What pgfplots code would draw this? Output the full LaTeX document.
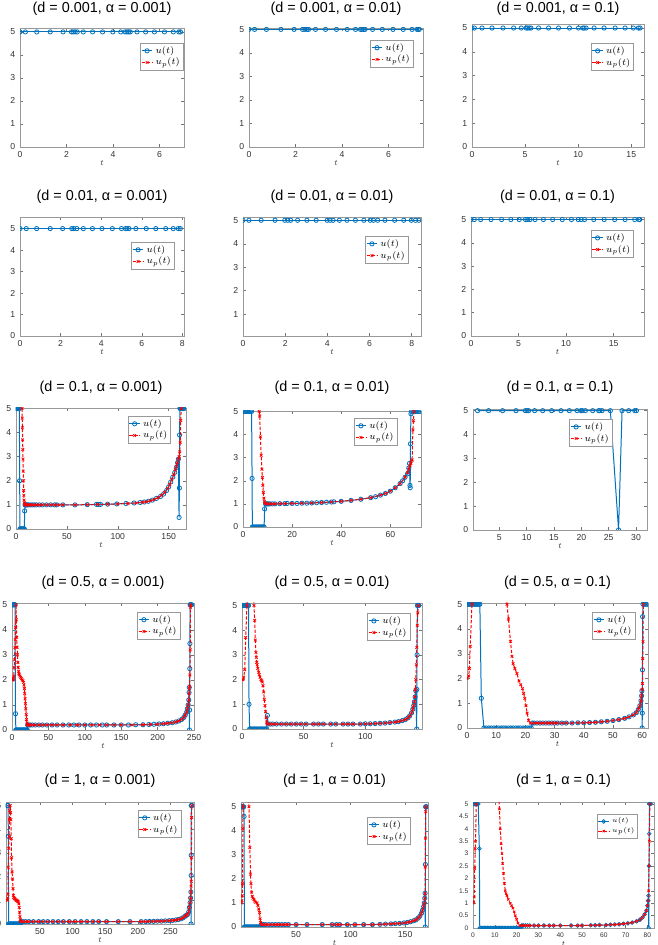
\documentclass[border=0pt]{standalone}
\usepackage{fontspec}
\setmainfont{Liberation Sans}
\usepackage{pgfplots}
\pgfplotsset{compat=1.18}
\definecolor{mblue}{rgb}{0,0.447,0.741}
\pgfplotsset{
  mat/.style={
    scale only axis, anchor=south west,
    axis line style={draw=black!40, line width=0.5pt},
    tick style={draw=black!55, line width=0.35pt},
    tick align=inside, major tick length=2pt,
    tick label style={font=\fontsize{6.5}{7}\selectfont, text=black!80},
    /pgf/number format/assume math mode=true,
    xlabel={$t$},
    xlabel style={font=\fontsize{6}{6}\selectfont, at={(axis description cs:0.5,0)}, anchor=center, yshift=-12pt, text=black!80},
    every axis title/.style={font=\fontsize{10.8}{12}\selectfont, at={(axis description cs:0.5,1)}, anchor=center},
    legend style={font=\fontsize{6.8}{7}\selectfont, draw=black!40, inner sep=0.5pt, outer sep=0pt, row sep=-2pt, anchor=north east},
    legend cell align=left,
    legend image code/.code={\draw[mark repeat=2,mark phase=2] plot coordinates {(0cm,0cm) (0.14cm,0cm) (0.28cm,0cm)};},
    clip marker paths=true,
    ymin=0, ytick={0,1,2,3,4,5},
    legend entries={$u(t)$,$u_p(t)$},
  },
  tsh/.style={title style={yshift=#1}},
  lp/.style 2 args={legend style={at={(#1,#2)}}},
  ublue/.style={color=mblue, line width=0.75pt, mark=o, mark size=1.6pt, mark options={solid, line width=0.6pt}},
  ured/.style={color=red, line width=0.75pt, dash pattern=on 2.5pt off 1.3pt, mark=x, mark size=1.4pt, mark options={solid, line width=0.6pt}},
}
\begin{document}
\begin{tikzpicture}
\useasboundingbox (0,0) rectangle (492.75pt,708.75pt);
% ---------------- Row 1 ----------------
\begin{axis}[mat, at={(15pt,598.5pt)}, width=123pt, height=89.25pt, xmin=0, xmax=7.05, ymax=5.17, xtick={0,2,4,6},
  title={(d = 0.001, α = 0.001)}, tsh=14.25pt, lp={0.995}{0.874}]
\addplot[ublue] coordinates {(0,5)(0.23,5)(0.72,5)(1.3,5)(1.85,5)(2.21,5)(2.28,5)(2.37,5)(2.46,5)(2.72,5)(3.12,5)(3.55,5)(3.99,5)(4.33,5)(4.52,5)(4.6,5)(4.67,5)(4.74,5)(5.03,5)(5.4,5)(5.78,5)(6.21,5)(6.59,5)(6.83,5)(6.9,5)};
\addlegendimage{ured}
\end{axis}
\begin{axis}[mat, at={(186.75pt,598.5pt)}, width=130.5pt, height=89.25pt, xmin=0, xmax=7.48, ymax=5.06, xtick={0,2,4,6},
  title={(d = 0.001, α = 0.01)}, tsh=14.25pt, lp={0.943}{0.9}]
\addplot[ublue] coordinates {(0,5)(0.24,5)(0.75,5)(1.37,5)(1.94,5)(2.3,5)(2.4,5)(2.5,5)(2.56,5)(2.86,5)(3.29,5)(3.76,5)(4.22,5)(4.58,5)(4.79,5)(4.85,5)(4.92,5)(4.99,5)(5.31,5)(5.73,5)(6.19,5)(6.63,5)(7.01,5)(7.22,5)(7.28,5)(7.32,5)};
\addlegendimage{ured}
\end{axis}
\begin{axis}[mat, at={(354pt,598.5pt)}, width=129pt, height=92.25pt, xmin=0, xmax=16.2, ymax=5.17, xtick={0,5,10,15},
  title={(d = 0.001, α = 0.1)}, tsh=11.25pt, lp={0.94}{0.845}]
\addplot[ublue] coordinates {(0,5)(0.22,5)(0.94,5)(1.88,5)(2.92,5)(3.92,5)(4.64,5)(5.11,5)(5.24,5)(5.39,5)(5.55,5)(6.27,5)(7.21,5)(8.15,5)(9.18,5)(10.03,5)(10.44,5)(10.56,5)(10.75,5)(11.5,5)(12.44,5)(13.48,5)(14.42,5)(15.2,5)(15.67,5)(15.83,5)};
\addlegendimage{ured}
\end{axis}
% ---------------- Row 2 ----------------
\begin{axis}[mat, at={(15pt,456.75pt)}, width=123pt, height=89.25pt, xmin=0, xmax=8.08, ymax=5.54, xtick={0,2,4,6,8},
  title={(d = 0.01, α = 0.001)}, tsh=15pt, lp={0.94}{0.79}]
\addplot[ublue] coordinates {(0,5)(0.31,5)(0.82,5)(1.49,5)(2.1,5)(2.55,5)(2.65,5)(2.8,5)(3.12,5)(3.57,5)(4.04,5)(4.55,5)(5.0,5)(5.2,5)(5.27,5)(5.37,5)(5.71,5)(6.22,5)(6.69,5)(7.18,5)(7.55,5)(7.8,5)(7.9,5)};
\addlegendimage{ured}
\end{axis}
\begin{axis}[mat, at={(182.25pt,456.75pt)}, width=133.5pt, height=89.25pt, xmin=0, xmax=8.44, ymin=0.07, ymax=5.14, xtick={0,2,4,6,8},
  title={(d = 0.01, α = 0.01)}, tsh=15pt, lp={0.927}{0.84}]
\addplot[ublue] coordinates {(0,5)(0.28,5)(0.86,5)(1.52,5)(1.98,5)(2.12,5)(2.26,5)(2.59,5)(3.03,5)(3.47,5)(3.99,5)(4.13,5)(4.27,5)(4.57,5)(4.93,5)(5.33,5)(5.73,5)(6.03,5)(6.19,5)(6.39,5)(6.73,5)(7.19,5)(7.62,5)(7.98,5)(8.18,5)(8.34,5)};
\addlegendimage{ured}
\end{axis}
\begin{axis}[mat, at={(353.25pt,456.75pt)}, width=129.75pt, height=89.25pt, xmin=0, xmax=18.2, ymax=5.11, xtick={0,5,10,15},
  title={(d = 0.01, α = 0.1)}, tsh=15pt, lp={0.94}{0.89}]
\addplot[ublue] coordinates {(0,5)(0.35,5)(1.01,5)(2.11,5)(3.22,5)(4.19,5)(5.07,5)(5.73,5)(5.95,5)(6.21,5)(6.74,5)(7.62,5)(8.59,5)(9.6,5)(10.57,5)(11.28,5)(11.59,5)(11.94,5)(12.91,5)(14.01,5)(15.11,5)(16.21,5)(17.22,5)(17.66,5)(17.75,5)};
\addlegendimage{ured}
\end{axis}
% ---------------- Row 3 ----------------
\begin{axis}[mat, at={(12pt,312pt)}, width=127.5pt, height=90.75pt, xmin=0, xmax=167, ymax=5.02, xtick={0,50,100,150},
  title={(d = 0.1, α = 0.001)}, tsh=15pt, lp={0.91}{0.934}]
\addplot[ublue] coordinates {(0,5)(0.4,5)(0.8,5)(1.2,5)(1.6,5)(2.0,5)(2.4,5)(2.8,5)(3.3,5)(3.6,2.0)(3.9,0)(4.3,0)(4.8,0)(5.3,0)(5.8,0)(6.3,0)(6.8,0)(7.3,0)(7.8,0)(8.2,0)(8.5,0.75)(8.9,1.0)(9.5,1.0)(10,1.0)(11,1.0)(12,1.0)(14,1.0)(16,1.0)(18,1.0)(20,1.0)(23,1.0)(26,1.0)(30,1.0)(34,1.0)(38,1.0)(40,1.0)(46,1.0)(58,1.0)(70,1.01)(79,1.02)(81,1.02)(83,1.02)(90,1.03)(99,1.04)(108,1.06)(116,1.08)(122,1.1)(126,1.12)(130,1.15)(134,1.2)(138,1.27)(142,1.35)(145,1.45)(148,1.6)(150,1.75)(152,1.95)(154,2.15)(156,2.35)(157.5,2.55)(158.7,2.75)(159.5,2.9)(160.2,0.48)(160.5,1.7)(160.7,3.9)(161,5)(161.6,5)(162.2,5)(162.8,5)(163.4,5)(164,5)(164.6,5)(165,5)};
\addplot[ured] coordinates {(5.9,5.0)(6.1,4.6)(6.3,4.2)(6.5,3.7)(6.7,3.3)(6.9,2.9)(7.1,2.4)(7.3,2.0)(7.5,1.6)(7.7,1.4)(7.9,1.2)(8.2,1.08)(8.6,1.03)(9,1.0)(9.5,1.0)(10,1.0)(11,1.0)(12,1.0)(13,1.0)(14,1.0)(16,1.0)(18,1.0)(20,1.0)(23,1.0)(26,1.0)(30,1.0)(34,1.0)(38,1.0)(42,1.0)(46,1.0)(58,1.0)(70,1.01)(80,1.02)(90,1.03)(100,1.04)(110,1.06)(118,1.08)(124,1.11)(128,1.13)(132,1.17)(136,1.23)(140,1.31)(143,1.4)(146,1.52)(149,1.68)(151,1.85)(153,2.05)(155,2.25)(156.5,2.45)(157.5,2.6)(158.5,2.75)(159.5,2.9)(160.3,3.0)(160.8,3.2)(161.3,3.6)(161.8,4.5)(162.3,5.0)};
\end{axis}
\begin{axis}[mat, at={(182.25pt,313.5pt)}, width=133.5pt, height=87pt, xmin=0, xmax=72.5, ymax=5.02, xtick={0,20,40,60},
  title={(d = 0.1, α = 0.01)}, tsh=17.25pt, lp={0.865}{0.94}]
\addplot[ublue] coordinates {(0,5)(0.5,5)(1,5)(1.5,5)(2,5)(2.5,5)(3,5)(3.5,5)(3.7,2.1)(3.8,0)(4.2,0)(4.6,0)(5.0,0)(5.4,0)(5.8,0)(6.2,0)(6.6,0)(7.0,0)(7.4,0)(7.8,0)(8.2,0)(8.6,0)(8.8,0.78)(9.2,1.0)(9.6,1.0)(10,1.0)(10.5,1.0)(11,1.0)(12,1.0)(13,1.0)(15,1.01)(17,1.01)(18,1.02)(20,1.02)(22,1.02)(24,1.03)(26,1.03)(28,1.04)(30,1.05)(32,1.06)(34,1.07)(36,1.08)(37,1.09)(40,1.11)(44,1.15)(48,1.2)(52,1.27)(54,1.31)(56,1.38)(58,1.45)(60,1.55)(62,1.7)(64,1.88)(65,2.0)(66,2.15)(67,2.3)(67.5,2.55)(67.8,2.75)(68,1.8)(68.1,1.7)(68.2,3.6)(68.4,4.9)(68.6,5)(69.2,5)(69.8,5)(70.4,5)(71,5)(71.5,5)(72,5)};
\addplot[ured] coordinates {(6.6,5.0)(6.8,4.8)(7.1,3.9)(7.4,3.1)(7.7,2.5)(7.9,2.15)(8.1,1.8)(8.3,1.5)(8.5,1.25)(8.7,1.1)(9.0,1.04)(9.4,1.0)(10,1.0)(11,1.0)(12,1.0)(13,1.0)(15,1.01)(17,1.01)(20,1.02)(24,1.03)(28,1.04)(32,1.06)(36,1.08)(40,1.11)(44,1.15)(48,1.2)(52,1.27)(56,1.38)(58,1.45)(60,1.55)(62,1.7)(64,1.88)(66,2.15)(67,2.35)(67.5,2.5)(68,2.65)(68.3,2.75)(68.6,2.85)(68.9,2.9)(69.2,4.2)(69.4,4.6)(69.7,5.0)};
\end{axis}
\begin{axis}[mat, at={(354.75pt,311.25pt)}, width=130.5pt, height=90.75pt, xmin=0.2, xmax=32, ymax=5.07, xtick={5,10,15,20,25,30},
  title={(d = 0.1, α = 0.1)}, tsh=15.75pt, lp={0.8}{0.917}]
\addplot[ublue] coordinates {(1.04,5)(3.05,5)(5.61,5)(8.05,5)(9.76,5)(10.06,5)(10.37,5)(11.46,5)(12.93,5)(14.57,5)(16.28,5)(17.8,5)(19.21,5)(19.94,5)(20.18,5)(20.73,5)(22.07,5)(23.17,5)(23.35,5)(23.78,5)(25.3,5)(26.8,0)(27.44,5)(28.66,5)(29.76,5)(30.06,5)};
\addlegendimage{ured}
\end{axis}
% ---------------- Row 4 ----------------
\begin{axis}[mat, at={(9pt,161.25pt)}, width=136.5pt, height=95.25pt, xmin=0, xmax=250, ymax=5.07, xtick={0,50,100,150,200,250},
  title={(d = 0.5, α = 0.001)}, tsh=15pt, lp={0.923}{0.93}]
\addplot[ublue] coordinates {(0,5)(0.7,5)(1.4,5)(2.1,5)(2.8,5)(3.5,5)(4.2,5)(4.8,0.65)(5.3,0)(6.3,0)(7.3,0)(8.3,0)(9.3,0)(10.3,0)(11.3,0)(12.3,0)(13.3,0)(14.3,0)(15.3,0)(16.3,0)(17.3,0)(18.3,0)(19.3,0)(20.3,0)(21,0)(21.5,0.2)(23,0.2)(25,0.2)(28,0.2)(32,0.2)(37,0.2)(42,0.2)(48,0.2)(55,0.2)(62,0.2)(70,0.2)(78,0.2)(85,0.2)(92,0.2)(100,0.2)(108,0.2)(116,0.2)(124,0.2)(130,0.2)(140,0.2)(150,0.2)(160,0.2)(170,0.21)(180,0.21)(188,0.22)(195,0.23)(202,0.24)(208,0.25)(214,0.27)(220,0.29)(225,0.32)(229,0.36)(233,0.42)(236,0.5)(238,0.6)(240,0.72)(241,0.85)(242,1.0)(242.8,1.2)(243.2,1.5)(243.5,1.7)(243.7,0)(244,0.8)(244.2,2.45)(244.4,3.45)(244.6,5)(245.3,5)(246,5)(246.8,5)};
\addplot[ured] coordinates {(0.5,2.0)(1,2.0)(1.5,2.02)(2,2.05)(2.5,2.15)(3,2.5)(3.5,2.8)(4,3.3)(4.5,3.6)(5,4.1)(5.6,5.0)(6,4.4)(6.5,3.7)(7,3.3)(7.5,3.0)(8,2.7)(8.5,2.5)(9,2.35)(9.5,2.25)(10,2.2)(11,2.15)(12,2.1)(13,2.05)(14,2.0)(15,1.97)(15.8,1.9)(16.5,1.8)(17,1.65)(17.5,1.45)(18,1.25)(18.5,1.05)(19,0.85)(19.5,0.62)(20,0.42)(20.5,0.28)(21,0.22)(21.5,0.2)(23,0.2)(25,0.2)(28,0.2)(32,0.2)(37,0.2)(42,0.2)(48,0.2)(55,0.2)(62,0.2)(70,0.2)(80,0.2)(90,0.2)(100,0.2)(110,0.2)(120,0.2)(130,0.2)(140,0.2)(150,0.2)(165,0.2)(180,0.21)(190,0.22)(200,0.23)(208,0.25)(214,0.27)(220,0.29)(225,0.32)(229,0.36)(233,0.42)(236,0.5)(238,0.6)(240,0.72)(241,0.85)(242,1.0)(242.8,1.2)(243.3,1.45)(243.7,1.65)(244,1.75)(244.4,2.2)(244.8,3.2)(245.2,4.9)(245.6,5.0)};
\end{axis}
\begin{axis}[mat, at={(181.5pt,162pt)}, width=135pt, height=94.5pt, xmin=0, xmax=146, ymax=5.1, xtick={0,50,100},
  title={(d = 0.5, α = 0.01)}, tsh=15pt, lp={0.933}{0.92}]
\addplot[ublue] coordinates {(0,5)(0.6,5)(1.2,5)(1.8,5)(2.4,5)(3,5)(3.6,5)(4.2,5)(4.8,5)(5.3,5)(5.7,1.0)(6.2,0)(7,0)(8,0)(9,0)(10,0)(11,0)(12,0)(13,0)(14,0)(15,0)(16,0)(17,0)(18,0)(19,0)(20,0)(20.6,0.55)(21.2,0.2)(23,0.2)(25,0.2)(28,0.2)(32,0.2)(36,0.2)(40,0.2)(44,0.2)(48,0.2)(52,0.2)(58,0.2)(62,0.2)(66,0.2)(72,0.2)(76,0.2)(82,0.2)(86,0.2)(90,0.2)(96,0.2)(100,0.21)(104,0.21)(108,0.22)(112,0.23)(116,0.24)(120,0.26)(124,0.28)(127,0.3)(130,0.34)(132.5,0.38)(134.5,0.45)(136,0.53)(137.5,0.65)(138.5,0.8)(139.3,0.95)(139.8,1.1)(140.4,1.3)(140.9,1.55)(141.7,0)(141.8,1.6)(142,3.0)(142.2,5)(142.8,5)(143.4,5)};
\addplot[ured] coordinates {(0.3,2.0)(0.8,2.0)(1.4,2.1)(2.2,2.4)(3.0,3.7)(4.0,5.0)(5,6.5)(7,7.5)(9,6.3)(9.7,5.0)(10.3,4.4)(10.8,3.6)(11.3,3.1)(11.6,2.9)(11.9,2.7)(12.3,2.6)(12.8,2.45)(13.5,2.3)(14,2.2)(14.6,2.1)(15.3,2.0)(16,1.95)(16.5,1.9)(17,1.75)(17.6,1.5)(18.1,1.2)(18.6,0.95)(19.1,0.7)(19.6,0.45)(20,0.28)(20.4,0.2)(23,0.2)(25,0.2)(28,0.2)(32,0.2)(36,0.2)(40,0.2)(44,0.2)(48,0.2)(52,0.2)(58,0.2)(62,0.2)(66,0.2)(72,0.2)(76,0.2)(82,0.2)(86,0.2)(90,0.2)(96,0.2)(100,0.21)(104,0.21)(108,0.22)(112,0.23)(116,0.24)(120,0.26)(124,0.28)(127,0.3)(130,0.34)(132.5,0.38)(134.5,0.45)(136,0.53)(137.5,0.65)(138.5,0.8)(139.3,0.95)(139.8,1.1)(140.2,1.3)(140.6,1.6)(141,2.0)(141.4,2.6)(141.8,3.3)(142.2,4.2)(142.6,4.7)(143,5.0)};
\end{axis}
\begin{axis}[mat, at={(350.25pt,162.75pt)}, width=135.75pt, height=93.75pt, xmin=0, xmax=62, ymax=5.05, xtick={0,10,20,30,40,50,60},
  title={(d = 0.5, α = 0.1)}, tsh=15pt, lp={0.928}{0.928}]
\addplot[ublue] coordinates {(0,5)(0.4,5)(0.8,5)(1.2,5)(1.6,5)(2,5)(2.4,5)(2.8,5)(3.2,5)(3.6,5)(4,5)(4.4,5)(4.9,1.2)(5.8,0)(6.6,0)(7.5,0)(8.3,0)(9.2,0)(10,0)(10.8,0)(11.7,0)(12.5,0)(13.3,0)(14.2,0)(15,0)(15.8,0)(16.7,0)(17.5,0)(18.3,0)(19.2,0)(20,0)(20.8,0)(21.5,0)(22,0)(22.4,0.2)(23,0.2)(24,0.2)(25,0.2)(26,0.2)(27,0.2)(28,0.2)(29,0.2)(30,0.2)(31,0.2)(32.5,0.2)(34,0.2)(36,0.2)(38,0.21)(40,0.21)(42,0.22)(44,0.23)(46,0.25)(48,0.27)(50,0.3)(52,0.34)(54,0.39)(55.5,0.45)(57,0.53)(58,0.62)(58.7,0.75)(59.2,0.9)(59.6,1.1)(59.8,1.3)(59.9,1.5)(60,0)(60.05,0.6)(60.1,2.35)(60.15,4.5)(60.3,5)(60.8,5)(61.3,5)(61.7,5)};
\addplot[ured] coordinates {(0,2.0)(0.6,2.1)(0.8,2.4)(1.1,3.3)(1.7,5)(3,8)(8,9)(13,6)(13.7,5.0)(14.2,4.4)(14.9,3.5)(15.4,2.9)(15.8,2.6)(16.4,2.4)(17.1,2.2)(17.8,1.9)(18.4,1.75)(19,1.6)(19.4,1.4)(19.8,1.2)(20.2,0.9)(20.6,0.6)(21.1,0.3)(21.7,0.2)(23,0.2)(24,0.2)(25,0.2)(26,0.2)(27,0.2)(28,0.2)(29,0.2)(30,0.2)(31,0.2)(32.5,0.2)(34,0.2)(36,0.2)(38,0.21)(40,0.21)(42,0.22)(44,0.23)(46,0.25)(48,0.27)(50,0.3)(52,0.34)(54,0.39)(55.5,0.45)(57,0.53)(58,0.62)(58.7,0.75)(59.2,0.9)(59.6,1.1)(59.8,1.3)(60,1.55)(60.1,1.8)(60.2,2.8)(60.3,3.5)(60.4,5.0)};
\end{axis}
% ---------------- Row 5 ----------------
\begin{axis}[mat, at={(4.5pt,15.75pt)}, width=141pt, height=91.5pt, xmin=-2, xmax=286, ymax=5.15, xtick={50,100,150,200,250},
  title={(d = 1, α = 0.001)}, tsh=15.75pt, lp={0.93}{0.934}]
\addplot[ublue] coordinates {(0,5)(0.4,5)(0.8,5)(1.2,5)(1.6,3.7)(2,0)(3,0)(4,0)(5,0)(6,0)(7,0)(8,0)(9,0)(10,0)(11,0)(12,0)(13,0)(14,0)(15,0)(16,0)(17,0)(18,0)(19,0)(20,0)(21,0.1)(24,0.1)(28,0.1)(33,0.1)(40,0.1)(48,0.1)(55,0.1)(62,0.1)(70,0.1)(78,0.1)(86,0.1)(95,0.1)(104,0.1)(113,0.1)(122,0.1)(131,0.1)(140,0.1)(152,0.1)(170,0.1)(188,0.1)(205,0.1)(212,0.1)(218,0.11)(224,0.11)(230,0.12)(236,0.12)(242,0.13)(248,0.14)(253,0.15)(258,0.17)(262,0.19)(266,0.22)(269,0.26)(272,0.32)(274,0.36)(276,0.4)(278,0.52)(279,0.7)(280,0.9)(280.8,1.1)(281.2,1.35)(281.5,0)(281.6,2.05)(281.7,2.9)(281.8,5)(282.3,5)(282.8,5)};
\addplot[ured] coordinates {(0,1.0)(0.5,1.1)(1,1.25)(1.5,2.4)(2.2,3.2)(2.8,3.7)(3.3,4.4)(3.8,4.8)(4.4,5.0)(5,4.7)(5.5,4.4)(6,3.6)(6.5,2.8)(7.3,2.2)(8,1.9)(8.7,1.5)(9.3,1.2)(10,1.12)(11,1.08)(12,1.05)(13,1.02)(14,1.0)(15,0.98)(16,0.96)(17,0.93)(17.7,0.85)(18.3,0.7)(18.8,0.5)(19.3,0.32)(19.8,0.18)(20.3,0.12)(21,0.1)(24,0.1)(28,0.1)(33,0.1)(40,0.1)(48,0.1)(55,0.1)(62,0.1)(70,0.1)(78,0.1)(86,0.1)(95,0.1)(104,0.1)(113,0.1)(122,0.1)(131,0.1)(140,0.1)(152,0.1)(170,0.1)(188,0.1)(205,0.1)(212,0.1)(218,0.11)(224,0.11)(230,0.12)(236,0.12)(242,0.13)(248,0.14)(253,0.15)(258,0.17)(262,0.19)(266,0.22)(269,0.26)(272,0.32)(274,0.36)(276,0.4)(278,0.52)(279,0.7)(280,0.9)(280.8,1.1)(281.2,1.35)(281.5,1.6)(281.8,1.8)(282.1,2.8)(282.4,4.5)(282.7,5.0)};
\end{axis}
\begin{axis}[mat, at={(180.75pt,13.5pt)}, width=140.25pt, height=93.75pt, xmin=-0.5, xmax=171, ymax=5.2, xtick={50,100,150},
  title={(d = 1, α = 0.01)}, tsh=15.75pt, lp={0.904}{0.88}]
\addplot[ublue] coordinates {(0,5)(0.5,5)(1,5)(1.5,5)(2,5)(2.3,4.6)(2.6,0)(3.2,0)(4,0)(4.8,0)(5.6,0)(6.4,0)(7.2,0)(8,0)(8.8,0)(9.6,0)(10.4,0)(11.2,0)(12,0)(12.8,0)(13.6,0)(14.4,0)(15.2,0)(16,0)(16.8,0)(17.6,0)(18.2,0.1)(20,0.1)(22,0.1)(25,0.1)(28,0.1)(31,0.1)(34,0.1)(37,0.1)(40,0.1)(43,0.1)(50,0.1)(60,0.1)(74,0.1)(83,0.1)(87,0.1)(90,0.1)(97,0.1)(104,0.1)(112,0.1)(120,0.1)(127,0.11)(132,0.12)(137,0.13)(141,0.14)(145,0.15)(149,0.17)(152,0.19)(155,0.22)(158,0.26)(160,0.3)(162,0.37)(163.5,0.45)(165,0.57)(166,0.7)(167,0.85)(167.6,1.0)(168,1.2)(168.3,1.4)(168.5,0)(168.6,2.6)(168.8,5)(169.3,5)(169.8,5)};
\addplot[ured] coordinates {(0,1.0)(0.3,1.1)(0.6,1.3)(0.9,1.8)(1.2,4.1)(1.5,5)(2.5,7)(5,8)(6.4,6)(6.8,5.0)(7.6,3.3)(8.2,2.2)(8.6,1.8)(9.2,1.45)(9.8,1.28)(10.5,1.2)(11.3,1.15)(12,1.08)(13,1.03)(14.3,1.0)(15,0.9)(15.8,0.75)(16.5,0.6)(17,0.35)(17.5,0.18)(18.2,0.1)(20,0.1)(22,0.1)(25,0.1)(28,0.1)(31,0.1)(34,0.1)(37,0.1)(40,0.1)(43,0.1)(50,0.1)(60,0.1)(74,0.1)(83,0.1)(87,0.1)(90,0.1)(97,0.1)(104,0.1)(112,0.1)(120,0.1)(127,0.11)(132,0.12)(137,0.13)(141,0.14)(145,0.15)(149,0.17)(152,0.19)(155,0.22)(158,0.26)(160,0.3)(162,0.37)(163.5,0.45)(165,0.57)(166,0.7)(167,0.85)(167.6,1.0)(168,1.2)(168.3,1.4)(168.5,2.5)(168.7,3.7)(168.9,4.8)(169.1,5.0)};
\end{axis}
\begin{axis}[mat, at={(354.75pt,12.75pt)}, width=135.75pt, height=94.5pt, xmin=0, xmax=83, ymax=5.08, xtick={0,10,20,30,40,50,60,70,80},
  ytick={0,0.5,1,1.5,2,2.5,3,3.5,4,4.5,5},
  tick label style={font=\fontsize{5}{5.5}\selectfont},
  legend style={font=\fontsize{5}{5.5}\selectfont},
  title={(d = 1, α = 0.1)}, tsh=15.75pt, lp={0.91}{0.9}]
\addplot[ublue, mark size=1.4pt] coordinates {(0,5)(0.4,5)(0.8,5)(1.2,5)(1.6,5)(2,5)(2.4,5)(2.9,3.2)(3.1,0)(3.8,0)(4.5,0)(5.2,0)(5.9,0)(6.6,0)(7.3,0)(8,0)(8.7,0)(9.4,0)(10.1,0)(10.8,0)(11.5,0)(12.2,0)(12.9,0)(13.6,0)(14.3,0)(15,0)(15.7,0)(16.4,0)(17.1,0)(17.8,0)(18.5,0)(19.2,0)(19.9,0)(20.6,0)(21.3,0)(22,0)(22.4,0.1)(23,0.1)(24,0.1)(25,0.1)(26,0.1)(28,0.1)(30,0.1)(32.5,0.1)(35,0.1)(37,0.1)(40,0.1)(45,0.1)(48,0.1)(50,0.1)(54,0.11)(56,0.11)(58,0.12)(61,0.12)(63,0.13)(65,0.14)(67,0.15)(69,0.17)(71,0.19)(73,0.22)(75,0.27)(76.5,0.33)(77.7,0.42)(78.7,0.55)(79.5,0.7)(80,0.9)(80.3,1.1)(80.5,1.3)(80.6,0)(80.7,2.5)(80.8,3.8)(80.9,5)(81.2,5)(81.5,5)};
\addplot[ured, mark size=1.2pt] coordinates {(0.1,1.0)(0.35,1.05)(0.6,1.25)(0.8,2.4)(1.0,3.2)(1.2,3.5)(1.5,5)(3,7)(8,8)(11.5,6)(12.1,4.8)(12.5,4.0)(12.9,3.4)(13.3,3.0)(13.6,2.6)(14,2.2)(14.4,1.8)(14.8,1.5)(15.2,1.38)(15.6,1.3)(16.2,1.15)(17.1,1.0)(17.7,0.9)(18.3,0.8)(18.9,0.65)(19.4,0.5)(20,0.35)(20.6,0.2)(21.4,0.1)(22.4,0.1)(23,0.1)(24,0.1)(25,0.1)(26,0.1)(28,0.1)(30,0.1)(32.5,0.1)(35,0.1)(37,0.1)(40,0.1)(45,0.1)(48,0.1)(50,0.1)(54,0.11)(56,0.11)(58,0.12)(61,0.12)(63,0.13)(65,0.14)(67,0.15)(69,0.17)(71,0.19)(73,0.22)(75,0.27)(76.5,0.33)(77.7,0.42)(78.7,0.55)(79.5,0.7)(80,0.9)(80.3,1.1)(80.5,1.5)(80.7,2.5)(80.9,3.5)(81.1,5.0)};
\end{axis}
\end{tikzpicture}
\end{document}
